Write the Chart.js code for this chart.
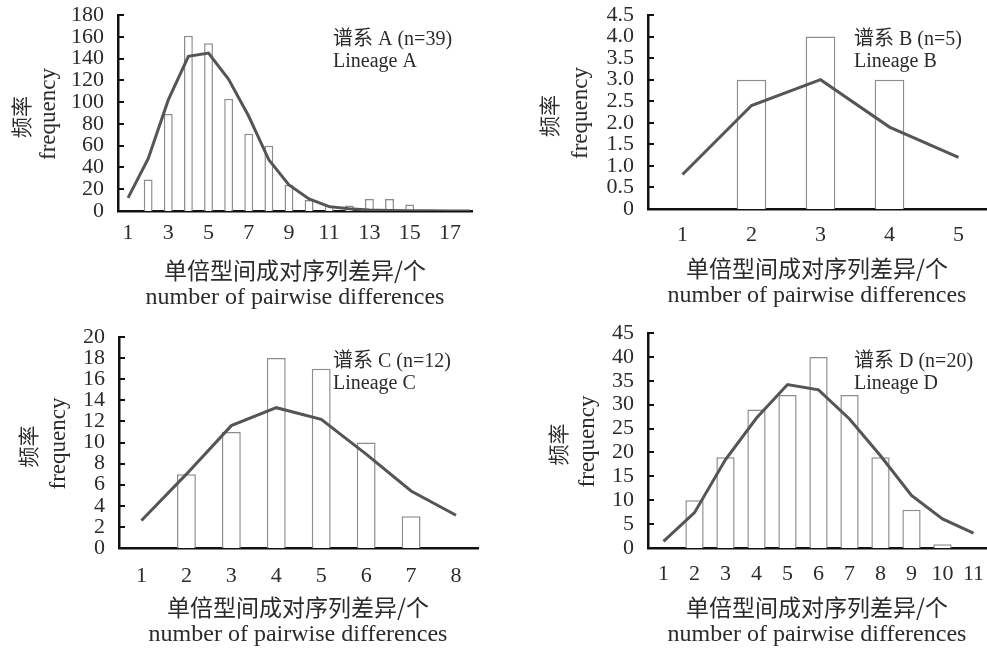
<!DOCTYPE html>
<html>
<head>
<meta charset="utf-8">
<script src="https://cdn.jsdelivr.net/npm/chart.js@4.4.1/dist/chart.umd.min.js"></script>
<style>
html,body{margin:0;padding:0;background:#fff;overflow:hidden;width:987px;height:652px;position:relative;}
canvas{position:absolute;display:block;}
</style>
</head>
<body>
<canvas id="ca" width="490" height="320" style="left:0px;top:0px"></canvas>
<canvas id="cb" width="520" height="320" style="left:490px;top:0px"></canvas>
<canvas id="cc" width="490" height="332" style="left:0px;top:320px"></canvas>
<canvas id="cd" width="520" height="332" style="left:490px;top:320px"></canvas>
<script>
// ---- shared texts ----
const xTitle = ['单倍型间成对序列差异/个', 'number of pairwise differences'];
const yTitle = ['频率', 'frequency'];

// ---- Panel A ----
const catsA = [1,2,3,4,5,6,7,8,9,10,11,12,13,14,15,16,17,18];
const barsA = [0,29,89,161,154,103,71,60,24,10,5,5,11,11,6,0,0,0];
const lineA = [12,48,102,142,145,121,87,47,24,11,4,2,1,0.5,0.3,0.2,0.1,0.1];
const xTicksA = [1,3,5,7,9,11,13,15,17];
const yMaxA = 180, yStepA = 20;
const noteA = ['谱系 A (n=39)', 'Lineage A'];

// ---- Panel B ----
const catsB = [1,2,3,4,5];
const barsB = [0,3,4,3,0];
const lineB = [0.8,2.4,3.0,1.9,1.2];
const xTicksB = [1,2,3,4,5];
const yMaxB = 4.5, yStepB = 0.5;
const noteB = ['谱系 B (n=5)', 'Lineage B'];

// ---- Panel C ----
const catsC = [1,2,3,4,5,6,7,8];
const barsC = [0,7,11,18,17,10,3,0];
const lineC = [2.6,7.0,11.6,13.3,12.2,8.9,5.4,3.1];
const xTicksC = [1,2,3,4,5,6,7,8];
const yMaxC = 20, yStepC = 2;
const noteC = ['谱系 C (n=12)', 'Lineage C'];

// ---- Panel D ----
const catsD = [1,2,3,4,5,6,7,8,9,10,11];
const barsD = [0,10,19,29,32,40,32,19,8,0.8,0];
const lineD = [1.4,7.4,18.5,27.2,34.2,33.1,27,19.3,11,6.1,3.1];
const xTicksD = [1,2,3,4,5,6,7,8,9,10,11];
const yMaxD = 45, yStepD = 5;
const noteD = ['谱系 D (n=20)', 'Lineage D'];

const TXT = '#2b2b2b';
const AXIS = '#111';
const SERIF = '"Liberation Serif", "Times New Roman", serif';
const CJK = '"Noto Sans CJK SC", sans-serif';

const panelText = {
  id: 'panelText',
  afterDraw(chart, args, o) {
    const ctx = chart.ctx, a = chart.chartArea, ys = chart.scales.y;
    ctx.save();
    // inward y tick marks
    ctx.strokeStyle = AXIS; ctx.lineWidth = 2;
    ys.ticks.forEach(t => {
      const py = Math.round(ys.getPixelForValue(t.value));
      ctx.beginPath(); ctx.moveTo(a.left, py); ctx.lineTo(a.left + 6, py); ctx.stroke();
    });
    ctx.fillStyle = TXT;
    ctx.textAlign = 'center'; ctx.textBaseline = 'middle';
    // x title
    ctx.font = '23px ' + CJK;
    ctx.fillText(xTitle[0], o.xcx, a.bottom + 59);
    ctx.font = '24px ' + SERIF;
    ctx.fillText(xTitle[1], o.xcx, a.bottom + 87);
    // y title
    const cy = (a.top + a.bottom) / 2;
    ctx.save(); ctx.translate(a.left - o.y1, cy + 4); ctx.rotate(-Math.PI / 2);
    ctx.font = '21px ' + CJK; ctx.fillText(yTitle[0], 0, 0); ctx.restore();
    ctx.save(); ctx.translate(a.left - o.y2, cy + 1); ctx.rotate(-Math.PI / 2);
    ctx.font = '23px ' + SERIF; ctx.fillText(yTitle[1], 0, 0); ctx.restore();
    // note
    ctx.textAlign = 'left';
    ctx.font = '20px "Liberation Serif", ' + CJK;
    ctx.fillText(o.note[0], o.nx, o.ny);
    ctx.fillText(o.note[1], o.nx, o.ny + 22);
    ctx.restore();
  }
};

function makePanel(id, cats, bars, line, xTicks, xMin, xMax, yMax, yStep, dec, note, g) {
  new Chart(document.getElementById(id), {
    type: 'bar',
    data: {
      datasets: [
        { type: 'line', data: cats.map((c, i) => ({ x: c, y: line[i] })),
          borderColor: '#555', borderWidth: 3, pointRadius: 0, tension: 0, order: 0 },
        { type: 'bar', data: cats.map((c, i) => ({ x: c, y: bars[i] })),
          backgroundColor: '#fff', borderColor: '#8c8c8c', borderWidth: 1.5,
          borderSkipped: 'start', barPercentage: g.barPct, categoryPercentage: 1, order: 1 }
      ]
    },
    options: {
      responsive: false, animation: false, devicePixelRatio: 1,
      layout: { padding: { left: 0, top: g.padTop, right: g.padRight, bottom: 0 } },
      plugins: {
        legend: { display: false }, tooltip: { enabled: false },
        panelText: { xcx: g.xcx, y1: g.y1, y2: g.y2, note: note, nx: g.nx, ny: g.ny }
      },
      scales: {
        x: {
          type: 'linear', min: xMin, max: xMax, offset: false,
          afterBuildTicks: s => { s.ticks = xTicks.map(v => ({ value: v })); },
          afterFit: s => { s.height = g.xH; s.paddingLeft = 0; s.paddingRight = 0; },
          grid: { display: false, drawTicks: false },
          border: { display: true, color: AXIS, width: 2.5 },
          ticks: { padding: g.xPad, color: TXT, font: { family: SERIF, size: 22 }, maxRotation: 0,
                   autoSkip: false, callback: v => String(v) }
        },
        y: {
          min: 0, max: yMax,
          afterBuildTicks: s => {
            const t = []; for (let k = 0; k * yStep <= yMax + 1e-9; k++) t.push({ value: +(k * yStep).toFixed(2) });
            s.ticks = t;
          },
          afterFit: s => { s.width = g.yW; s.paddingTop = 0; s.paddingBottom = 0; },
          grid: { display: false, drawTicks: false },
          border: { display: true, color: AXIS, width: 2.5 },
          ticks: { padding: 14, color: TXT, font: { family: SERIF, size: 22 }, autoSkip: false,
                   callback: v => v === 0 ? '0' : v.toFixed(dec) }
        }
      }
    },
    plugins: [panelText]
  });
}

makePanel('ca', catsA, barsA, lineA, xTicksA, 0.5, 18.1, yMaxA, yStepA, 0, noteA,
  { barPct: 0.44, padTop: 15, padRight: 18, xH: 109, yW: 118, xPad: 9, xcx: 295, y1: 97, y2: 69, nx: 333, ny: 40 });
makePanel('cb', catsB, barsB, lineB, xTicksB, 0.5, 5.5, yMaxB, yStepB, 1, noteB,
  { barPct: 0.43, padTop: 15, padRight: 17, xH: 111, yW: 158, xPad: 13, xcx: 327, y1: 99, y2: 67, nx: 364, ny: 40 });
makePanel('cc', catsC, barsC, lineC, xTicksC, 0.5, 8.5, yMaxC, yStepC, 0, noteC,
  { barPct: 0.42, padTop: 17, padRight: 11.5, xH: 104, yW: 119, xPad: 15, xcx: 298, y1: 91, y2: 60, nx: 333, ny: 42 });
makePanel('cd', catsD, barsD, lineD, xTicksD, 0.5, 11.5, yMaxD, yStepD, 0, noteD,
  { barPct: 0.59, padTop: 13, padRight: 21, xH: 104, yW: 158, xPad: 13, xcx: 327, y1: 90, y2: 60, nx: 364, ny: 42 });
</script>
</body>
</html>
